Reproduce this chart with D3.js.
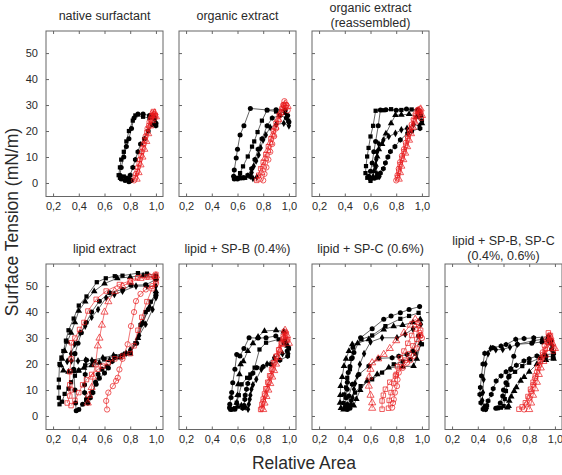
<!DOCTYPE html>
<html><head><meta charset="utf-8">
<script src="https://cdn.jsdelivr.net/npm/d3@7"></script>
<style>body{margin:0;background:#fff}svg{display:block}text{font-family:Arial,"Liberation Sans",sans-serif;fill:#2a2a2a}</style>
</head><body><svg id="c" width="562" height="475"></svg>
<script>
const xTicks=[0.2,0.4,0.6,0.8,1.0];
const yTicks=[0,10,20,30,40,50];
const panelTitles=[["native surfactant"],["organic extract"],["organic extract","(reassembled)"],["lipid extract"],["lipid + SP-B (0.4%)"],["lipid + SP-C (0.6%)"],["lipid + SP-B, SP-C","(0.4%, 0.6%)"]];
const xTitle="Relative Area";
const yTitle="Surface Tension (mN/m)";

// native surfactant
const nativeBlackShapes=["circle","square","hexagon"];
const nativeBlack=[
 [[1.0,23],[0.985,25.5],[0.95,26],[0.90,26.5],[0.86,26.5],[0.83,25],[0.81,21],[0.79,17],[0.77,14],[0.75,10],[0.73,6],[0.72,3],[0.73,1.5],[0.76,1],[0.79,0.5]],
 [[0.99,24.5],[0.95,25],[0.90,25.5],[0.84,26],[0.82,24],[0.79,20],[0.77,16],[0.75,12],[0.73,9],[0.72,6],[0.71,3],[0.72,2],[0.75,2.5],[0.77,2]],
 [[1.0,22],[0.97,22.5],[0.94,20],[0.91,17],[0.88,15],[0.86,12],[0.84,9],[0.82,6],[0.80,3],[0.79,1.5],[0.81,1]]
];
const nativeRedShapes=["circle","square","triangle"];
const nativeRed=[
 [[0.83,1],[0.845,3.5],[0.86,6],[0.875,9],[0.89,12],[0.905,15],[0.92,18],[0.935,21],[0.95,23.5],[0.965,25.5],[0.975,27],[0.985,26.5],[0.99,25]],
 [[0.84,2],[0.855,4.5],[0.87,7.5],[0.885,10.5],[0.90,13.5],[0.915,16.5],[0.93,19.5],[0.945,22],[0.96,24.5],[0.97,26],[0.98,27.5],[0.995,26]],
 [[0.85,1.5],[0.865,4],[0.88,7],[0.895,10],[0.91,13],[0.925,16],[0.94,19],[0.955,22],[0.97,24],[0.98,26],[0.99,27],[1.0,25.5]]
];

// organic extract
const organicBlackShapes=["circle","square","diamond","hexagon"];
const organicBlack=[
 [[1.0,23.5],[0.99,26],[0.97,28],[0.90,28.2],[0.83,28.1],[0.70,28.7],[0.65,22],[0.62,18.5],[0.60,13],[0.59,9.6],[0.575,5],[0.57,2.6],[0.575,1.5],[0.60,1.5],[0.64,2]],
 [[0.995,24],[0.97,27],[0.90,27.5],[0.83,28],[0.79,24],[0.756,19.6],[0.73,16],[0.713,14],[0.68,10.2],[0.643,6.4],[0.62,3.8],[0.60,2],[0.62,1.8],[0.66,2],[0.70,2.5]],
 [[1.0,22],[0.96,23],[0.90,22.5],[0.854,21.4],[0.82,18.5],[0.80,16.6],[0.78,13.5],[0.764,10.8],[0.745,8.5],[0.726,6.4],[0.71,4],[0.70,2.6],[0.72,1.8],[0.75,2.2]],
 [[0.98,25],[0.93,26],[0.87,25],[0.83,22],[0.79,17],[0.76,13],[0.735,9],[0.71,5.5],[0.68,3],[0.65,2],[0.62,2.2]]
];
const organicRedShapes=["circle","square","triangle"];
const organicRed=[
 [[0.80,1],[0.81,3.5],[0.825,6],[0.84,9],[0.855,12],[0.87,15],[0.885,18],[0.90,21],[0.92,24],[0.94,27],[0.955,30],[0.965,31.5],[0.98,30],[0.99,28]],
 [[0.75,1],[0.765,3],[0.78,5.5],[0.80,8],[0.82,11],[0.84,14],[0.86,17],[0.88,20],[0.90,23],[0.925,26],[0.945,28.5],[0.96,30],[0.975,29]],
 [[0.77,1.5],[0.785,4],[0.80,6.5],[0.815,9.5],[0.835,12.5],[0.855,15.5],[0.875,18.5],[0.895,21.5],[0.915,24.5],[0.935,27],[0.955,29],[0.97,30.5],[0.99,29.5]]
];

// organic extract (reassembled)
const reassBlackShapes=["square","circle","triangle","diamond","hexagon"];
const reassBlack=[
 [[1.0,24],[0.98,27.5],[0.92,28.3],[0.84,28.1],[0.76,28.4],[0.70,28],[0.64,27.8],[0.62,22],[0.60,17.9],[0.585,13.5],[0.574,10.2],[0.565,6.5],[0.561,3.8],[0.575,2],[0.60,0.8]],
 [[0.99,26],[0.97,28.2],[0.88,28.5],[0.80,28],[0.72,28.2],[0.677,28.1],[0.66,22],[0.64,16],[0.626,12],[0.613,7.7],[0.60,4.5],[0.587,2.6],[0.60,1.5],[0.63,1.8]],
 [[1.0,23],[0.96,25.5],[0.90,26.5],[0.84,26.2],[0.794,26.1],[0.76,23],[0.72,19],[0.69,15],[0.665,13],[0.652,10.2],[0.64,7],[0.626,4.5],[0.62,2.5],[0.64,2]],
 [[0.98,22],[0.935,22.5],[0.884,21],[0.84,20.5],[0.794,19.1],[0.742,17.9],[0.70,16.5],[0.665,15],[0.652,12],[0.645,9],[0.64,6],[0.65,3.5],[0.67,2.5]],
 [[0.985,21],[0.92,20],[0.889,19.1],[0.832,16.6],[0.79,14],[0.755,12.1],[0.735,10],[0.716,7.7],[0.70,5.5],[0.677,3.8],[0.66,2.5]]
];
const reassRedShapes=["circle","square","triangle"];
const reassRed=[
 [[0.80,1],[0.81,3],[0.82,5.5],[0.83,8],[0.845,10.5],[0.86,13],[0.875,15.5],[0.89,18],[0.905,20.5],[0.92,22.5],[0.935,24.5],[0.95,26.5],[0.965,28],[0.98,28.5],[0.99,27]],
 [[0.81,2],[0.82,4.5],[0.83,7],[0.845,9.5],[0.86,12],[0.875,14.5],[0.89,17],[0.905,19.5],[0.92,21.5],[0.94,24],[0.955,26],[0.97,28],[0.985,27.5],[0.995,25]],
 [[0.82,1.5],[0.83,4],[0.84,6.5],[0.855,9],[0.87,11.5],[0.885,14],[0.90,16.5],[0.915,19],[0.93,21.5],[0.945,23.5],[0.96,25.5],[0.975,27.5],[0.99,28.5],[1.0,26]]
];

// lipid extract
const lipidBlackShapes=["square","triangle","circle","diamond","hexagon"];
const lipidBlack=[
 [[1.0,54],[0.93,54.8],[0.86,55],[0.74,54],[0.68,53.8],[0.61,53],[0.54,51.5],[0.46,46],[0.40,42.5],[0.36,37.5],[0.32,33],[0.30,29],[0.28,25],[0.265,22.5],[0.25,20],[0.245,14],[0.245,11],[0.245,7],[0.25,4.5],[0.27,5.5],[0.29,8.5],[0.32,10.5],[0.34,13],[0.37,15.5],[0.40,17.5],[0.45,19.5],[0.52,21],[0.60,22],[0.68,23],[0.76,24],[0.80,24.5],[0.84,28],[0.88,35],[0.92,40],[0.96,44],[1.0,47]],
 [[1.0,53],[0.90,54],[0.80,53.5],[0.70,53],[0.60,51],[0.52,48],[0.45,44],[0.40,40.5],[0.37,36],[0.34,32],[0.31,28.5],[0.29,25],[0.27,22],[0.26,19.5],[0.28,17.5],[0.32,17],[0.36,17.3],[0.40,17.5],[0.44,18.5],[0.50,19.5],[0.56,20.5],[0.64,21.5],[0.72,22.5],[0.80,24],[0.86,30],[0.90,36],[0.95,42],[1.0,48]],
 [[1.0,52.5],[0.92,50.5],[0.806,50.3],[0.742,48.7],[0.64,47.4],[0.56,44.2],[0.50,40],[0.458,36],[0.42,32],[0.394,28],[0.37,24],[0.36,18],[0.37,10],[0.375,5],[0.38,2],[0.40,2.5],[0.43,4.5],[0.46,6.5],[0.50,9],[0.535,12.2],[0.56,14.5],[0.60,16.5],[0.63,18.5],[0.68,22.5],[0.74,23.5],[0.80,24.5],[0.85,28],[0.89,35.5],[0.94,41],[1.0,46.5]],
 [[1.0,50],[0.93,50],[0.845,50],[0.74,48],[0.677,46.8],[0.613,45.5],[0.55,41],[0.50,38],[0.45,34.6],[0.41,32],[0.368,27.6],[0.34,24],[0.31,21],[0.342,21.2],[0.394,21.2],[0.453,21.5],[0.502,21.4],[0.587,22.4],[0.67,23.3],[0.768,24.1],[0.80,25.5],[0.87,31],[0.92,35.3],[0.974,41],[1.0,45.5]],
 [[0.46,21.5],[0.45,16],[0.445,12],[0.445,9],[0.46,6],[0.47,5],[0.49,7],[0.51,9],[0.53,13],[0.55,16],[0.58,18],[0.62,19],[0.66,21]]
];
const lipidRedShapes=["square","triangle","circle","square"];
const lipidRed=[
 [[0.31,5],[0.33,7.7],[0.34,10],[0.33,12],[0.33,17],[0.34,22],[0.342,28.2],[0.37,30],[0.406,33.3],[0.44,36],[0.471,40.4],[0.535,44.9],[0.613,48.1],[0.716,50.6],[0.80,52],[0.858,53.2],[0.93,53.5],[0.987,53.8],[1.0,54.5]],
 [[0.47,5],[0.48,8],[0.50,11],[0.51,15],[0.53,20],[0.548,27],[0.561,30],[0.58,35],[0.60,40],[0.63,44],[0.68,48],[0.74,50],[0.80,51.5],[0.88,53],[0.95,53.5],[1.0,54]],
 [[0.62,2.5],[0.613,5.8],[0.63,9],[0.665,11.5],[0.69,13.5],[0.703,14.7],[0.716,17.9],[0.74,22],[0.78,27.6],[0.806,34.6],[0.83,40],[0.845,44.2],[0.88,47],[0.922,48.7],[0.97,50],[1.0,51]],
 [[0.34,4],[0.37,6],[0.40,9],[0.43,12],[0.46,14],[0.50,16],[0.55,18],[0.587,19.2],[0.63,20.5],[0.68,22],[0.74,23],[0.80,24],[0.83,27],[0.86,33],[0.89,38],[0.93,44],[0.97,49],[1.0,52]]
];

// lipid + SP-B
const spbBlackShapes=["circle","triangle","square","diamond","hexagon"];
const spbBlack=[
 [[0.987,25],[0.975,28],[0.962,28.2],[0.898,30.8],[0.822,30.1],[0.76,30],[0.69,30.1],[0.65,26],[0.619,23.1],[0.594,23.7],[0.58,18],[0.563,12.8],[0.555,9],[0.55,7.1],[0.54,4.5],[0.538,3.2],[0.55,2.5],[0.58,2.6]],
 [[0.99,27],[0.96,32.5],[0.90,33],[0.81,32.7],[0.76,30.5],[0.72,28],[0.68,25],[0.645,21],[0.624,19.9],[0.615,16],[0.606,12.2],[0.60,8],[0.594,5.1],[0.60,3.5],[0.63,4]],
 [[1.0,26],[0.97,29],[0.92,29.5],[0.822,28.2],[0.771,25.6],[0.733,18.6],[0.70,16],[0.675,14.7],[0.632,12.2],[0.61,8],[0.594,5.1],[0.58,3],[0.56,2.6],[0.545,2.6]],
 [[0.995,24],[0.95,24],[0.885,22.4],[0.83,20],[0.786,18],[0.746,14.1],[0.72,12],[0.708,10.3],[0.70,8],[0.695,6.4],[0.688,4.5],[0.682,2.6],[0.66,3.5]],
 [[0.99,23],[0.93,21.5],[0.86,19.9],[0.80,19],[0.751,18.6],[0.72,16.5],[0.695,14.7],[0.68,12.5],[0.67,10.3],[0.66,8],[0.657,6.4],[0.65,4],[0.64,3]]
];
const spbRedShapes=["square","circle","triangle"];
const spbRed=[
 [[0.78,2.5],[0.79,4.5],[0.80,6.5],[0.81,8.5],[0.82,10.5],[0.835,13],[0.85,15.5],[0.865,18],[0.88,20.5],[0.90,23],[0.92,25.5],[0.94,28],[0.955,30.5],[0.965,32.5],[0.975,31],[0.985,29]],
 [[0.79,3],[0.80,5.5],[0.815,8],[0.83,10.5],[0.845,13],[0.86,15.5],[0.875,18],[0.89,20.5],[0.905,23],[0.925,25.5],[0.945,28],[0.96,30],[0.975,32],[0.99,29.5]],
 [[0.80,2.5],[0.81,5],[0.825,7.5],[0.84,10],[0.855,12.5],[0.87,15],[0.885,17.5],[0.90,20],[0.915,22.5],[0.93,25],[0.945,27.5],[0.96,30],[0.97,33],[0.985,31],[1.0,28]]
];

// lipid + SP-C
const spcBlackShapes=["circle","square","triangle","diamond","hexagon","square","triangle"];
const spcBlack=[
 [[0.982,42.1],[0.90,41],[0.832,39.7],[0.76,38.5],[0.703,37.2],[0.613,33.6],[0.523,30.1],[0.471,24.4],[0.458,22.4],[0.44,19],[0.427,16.7],[0.42,13],[0.419,10.3],[0.41,7],[0.406,3.8],[0.42,2.5],[0.44,3]],
 [[0.974,39.7],[0.90,38.5],[0.832,37.4],[0.716,34.6],[0.613,31],[0.53,29.5],[0.465,26.3],[0.45,22],[0.44,18],[0.419,14.7],[0.41,11],[0.394,8.3],[0.39,5],[0.40,3],[0.42,4]],
 [[0.987,37.2],[0.93,36],[0.85,35],[0.78,34.5],[0.703,33.3],[0.587,29.5],[0.50,28],[0.458,27.6],[0.432,25],[0.41,22],[0.394,19.2],[0.38,15],[0.368,11.5],[0.365,8],[0.363,5.1],[0.37,3],[0.39,2.5]],
 [[0.992,35.3],[0.93,33.5],[0.87,31.5],[0.806,30.1],[0.69,30.1],[0.60,28.5],[0.55,24],[0.517,19.9],[0.497,15.4],[0.48,12.5],[0.471,10.3],[0.46,7],[0.45,4.5],[0.43,3.5]],
 [[0.974,30.8],[0.93,25],[0.884,23.7],[0.82,23],[0.768,22.4],[0.665,22.2],[0.587,19.2],[0.51,16],[0.458,12.2],[0.432,7.7],[0.42,4.5],[0.41,3]],
 [[1.0,27.6],[0.95,24],[0.91,21.8],[0.85,21],[0.781,19.9],[0.69,16.7],[0.613,14.1],[0.523,11.5],[0.48,9],[0.45,6],[0.44,3.5]],
 [[0.99,28],[0.96,22],[0.935,19.2],[0.85,19],[0.742,18.6],[0.652,16],[0.574,13.5],[0.52,10],[0.49,6.5],[0.47,4]]
];
const spcRedShapes=["triangle","square","circle","square"];
const spcRed=[
 [[0.613,3],[0.613,5.1],[0.60,8],[0.587,11.5],[0.59,15],[0.60,18],[0.613,20.5],[0.66,22],[0.703,23.7],[0.75,26],[0.80,29],[0.86,32],[0.91,35],[0.948,37.2],[0.97,36]],
 [[0.69,2.6],[0.69,5.8],[0.70,8],[0.716,10.3],[0.75,13],[0.794,15.4],[0.81,19],[0.832,22.4],[0.86,25],[0.89,28],[0.92,31],[0.95,33.5],[0.975,35],[0.99,33]],
 [[0.768,3.2],[0.775,5],[0.781,6.4],[0.79,9],[0.806,11.5],[0.81,14],[0.82,16.7],[0.85,18.5],[0.884,20.5],[0.91,21.5],[0.935,23.1],[0.96,26],[0.987,30.8],[1.0,30]],
 [[0.74,3],[0.745,6],[0.76,9],[0.78,12.5],[0.80,16],[0.84,19],[0.87,21.5],[0.90,24],[0.93,27],[0.96,29.5],[0.98,32],[0.99,31]]
];

// lipid + SP-B, SP-C
const spbcBlackShapes=["hexagon","diamond","circle","hexagon","square","triangle"];
const spbcBlack=[
 [[0.987,22.4],[0.974,25.6],[0.962,28.2],[0.949,30.5],[0.835,30.1],[0.76,29.8],[0.695,29.5],[0.62,27.5],[0.581,26.9],[0.517,26.3],[0.454,24.1],[0.44,20],[0.429,15.4],[0.42,11],[0.416,8.3],[0.424,5.1],[0.441,2.6],[0.46,2.5]],
 [[0.98,27],[0.94,29.5],[0.90,29.5],[0.835,29],[0.708,27.6],[0.65,26.5],[0.594,25.6],[0.54,25.5],[0.50,26],[0.48,24],[0.46,20],[0.445,14],[0.44,9],[0.435,6],[0.45,3.5],[0.47,3]],
 [[0.97,29],[0.90,28.5],[0.82,28],[0.708,27.6],[0.68,23],[0.657,17.9],[0.64,15],[0.619,12.8],[0.60,10],[0.594,7.7],[0.575,5],[0.556,3.2],[0.54,3]],
 [[0.99,24],[0.92,23.5],[0.86,23.1],[0.80,22],[0.759,21.2],[0.70,19.5],[0.657,18.2],[0.62,17],[0.581,15.4],[0.543,13.5],[0.52,10.5],[0.505,8.3],[0.48,5.8],[0.47,4]],
 [[0.985,23],[0.93,22.8],[0.886,22.4],[0.80,20.5],[0.746,19.2],[0.69,17],[0.645,15.4],[0.63,12],[0.619,9.6],[0.61,6.5],[0.601,3.8],[0.58,3.2],[0.555,3]],
 [[0.99,22],[0.93,21.5],[0.86,20],[0.80,17],[0.76,15],[0.733,13.5],[0.70,11],[0.683,9.6],[0.66,7.5],[0.645,5.8],[0.64,3.8],[0.63,3.2]]
];
const spbcRedShapes=["square","circle","triangle"];
const spbcRed=[
 [[0.72,2.6],[0.745,3.5],[0.77,5.1],[0.79,7.5],[0.81,10.3],[0.83,13],[0.847,15.4],[0.865,18.5],[0.886,21.2],[0.905,23.5],[0.924,25.6],[0.94,28.5],[0.949,32],[0.965,31],[0.975,28.5],[0.987,25]],
 [[0.76,2.5],[0.78,4.5],[0.80,7],[0.815,9.5],[0.83,12],[0.845,14.5],[0.86,17],[0.875,19.5],[0.89,22],[0.905,24.5],[0.92,27],[0.935,29.5],[0.955,31],[0.97,29],[0.99,26]],
 [[0.80,2.5],[0.815,5],[0.83,8],[0.845,10.5],[0.86,13],[0.875,16],[0.89,18.5],[0.91,21],[0.925,23.5],[0.94,26],[0.955,28.5],[0.965,30.5],[0.98,28],[1.0,26]]
];

const panels=[
 {t:panelTitles[0],col:0,row:0,black:nativeBlack,bs:nativeBlackShapes,red:nativeRed,rs:nativeRedShapes},
 {t:panelTitles[1],col:1,row:0,black:organicBlack,bs:organicBlackShapes,red:organicRed,rs:organicRedShapes},
 {t:panelTitles[2],col:2,row:0,black:reassBlack,bs:reassBlackShapes,red:reassRed,rs:reassRedShapes},
 {t:panelTitles[3],col:0,row:1,black:lipidBlack,bs:lipidBlackShapes,red:lipidRed,rs:lipidRedShapes},
 {t:panelTitles[4],col:1,row:1,black:spbBlack,bs:spbBlackShapes,red:spbRed,rs:spbRedShapes},
 {t:panelTitles[5],col:2,row:1,black:spcBlack,bs:spcBlackShapes,red:spcRed,rs:spcRedShapes},
 {t:panelTitles[6],col:3,row:1,black:spbcBlack,bs:spbcBlackShapes,red:spbcRed,rs:spbcRedShapes}
];

const svg=d3.select("#c");
const W=117,H=165.5;
const lefts=[46,179,312,445], tops=[31,264];
const fmt=d=>d3.format(".1f")(d).replace(".",",");
const hexSym={draw(ctx,size){const r=Math.sqrt(size/2.598);for(let i=0;i<6;i++){const a=Math.PI/3*i+Math.PI/6;const px=r*Math.cos(a),py=r*Math.sin(a);if(i)ctx.lineTo(px,py);else ctx.moveTo(px,py);}ctx.closePath();}};
const symTypes={circle:d3.symbolCircle,square:d3.symbolSquare,triangle:d3.symbolTriangle,diamond:d3.symbolDiamond,hexagon:hexSym};
const blackSize={circle:20,square:18,triangle:19,diamond:17,hexagon:20};
const redSize={circle:22,square:20,triangle:22};

panels.forEach(p=>{
 const L=lefts[p.col],T=tops[p.row];
 const x=d3.scaleLinear().domain([0.145,1.055]).range([L,L+W]);
 const y=d3.scaleLinear().domain([-5.2,58.5]).range([T+H,T]);
 const g=svg.append("g");
 g.append("rect").attr("x",L).attr("y",T).attr("width",W).attr("height",H).attr("fill","#fff").attr("stroke","#666").attr("stroke-width",1);
 const styleAxis=a=>{a.select(".domain").remove();a.selectAll("line").attr("stroke","#666");a.selectAll("text").attr("font-size",11).attr("fill","#2a2a2a").style("font-family","Arial, 'Liberation Sans', sans-serif");};
 g.append("g").attr("transform",`translate(0,${T+H})`).call(d3.axisBottom(x).tickValues(xTicks).tickSize(-3).tickPadding(6).tickFormat(fmt)).call(styleAxis);
 g.append("g").attr("transform",`translate(0,${T})`).call(d3.axisTop(x).tickValues(xTicks).tickSize(-3).tickFormat("")).call(styleAxis);
 g.append("g").attr("transform",`translate(${L},0)`).call(d3.axisLeft(y).tickValues(yTicks).tickSize(-3).tickPadding(8).tickFormat(p.col===0?d3.format("d"):"")).call(styleAxis);
 g.append("g").attr("transform",`translate(${L+W},0)`).call(d3.axisRight(y).tickValues(yTicks).tickSize(-3).tickFormat("")).call(styleAxis);
 const tt=g.append("text").attr("text-anchor","middle").attr("font-size",12.5).attr("x",L+W/2);
 if(p.t.length===1){tt.attr("y",T-11).text(p.t[0]);}
 else{tt.append("tspan").attr("x",L+W/2).attr("y",T-19).text(p.t[0]);tt.append("tspan").attr("x",L+W/2).attr("y",T-4.5).text(p.t[1]);}
 const line=d3.line().x(d=>x(d[0])).y(d=>y(d[1]));
 const plot=g.append("g");
 p.black.forEach(s=>{
  plot.append("path").attr("d",line(s)).attr("fill","none").attr("stroke","#222").attr("stroke-width",0.7);
 });
 p.black.forEach((s,i)=>{
  const sh=p.bs[i];
  plot.selectAll(null).data(s).enter().append("path")
   .attr("transform",d=>`translate(${x(d[0])},${y(d[1])})`)
   .attr("d",d3.symbol().type(symTypes[sh]).size(blackSize[sh])).attr("fill","#000");
 });
 p.red.forEach((s,i)=>{
  plot.append("path").attr("d",line(s)).attr("fill","none").attr("stroke","#e8191b").attr("stroke-width",0.6);
  const sh=p.rs[i];
  plot.selectAll(null).data(s).enter().append("path")
   .attr("transform",d=>`translate(${x(d[0])},${y(d[1])})`)
   .attr("d",d3.symbol().type(symTypes[sh]).size(redSize[sh])).attr("fill","none").attr("stroke","#e8191b").attr("stroke-width",0.7);
 });
});

svg.append("text").attr("x",304).attr("y",469).attr("text-anchor","middle").attr("font-size",17.5).text(xTitle);
svg.append("text").attr("transform","translate(18,222) rotate(-90)").attr("text-anchor","middle").attr("font-size",17.5).text(yTitle);
</script></body></html>
